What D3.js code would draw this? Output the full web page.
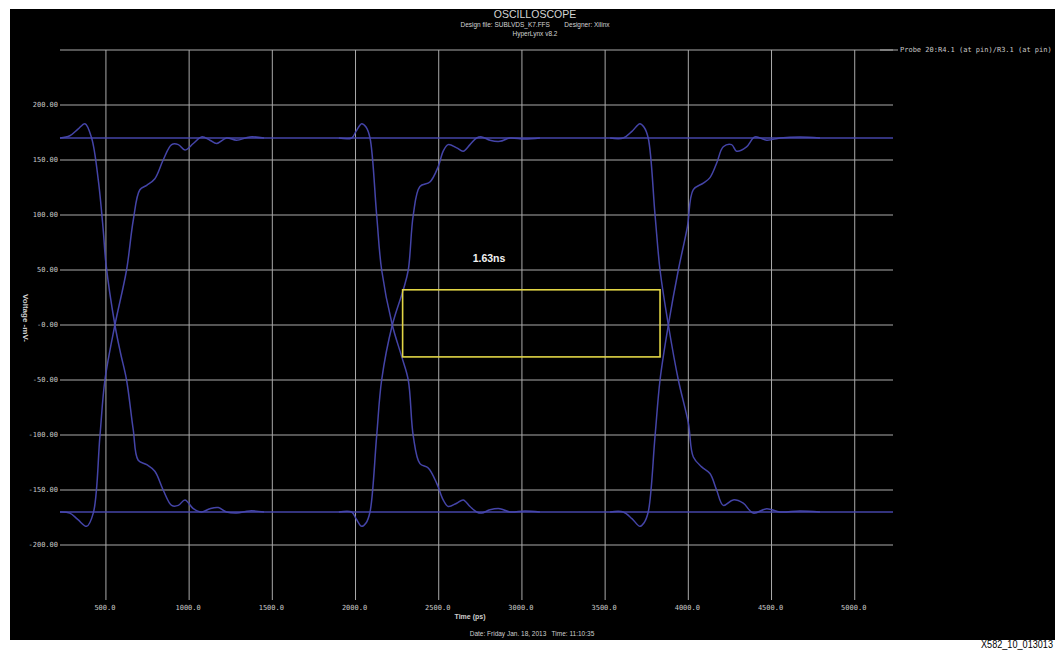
<!DOCTYPE html>
<html>
<head>
<meta charset="utf-8">
<script src="https://cdn.jsdelivr.net/npm/d3@7"></script>
<style>
  body { margin: 0; background: #fff; }
  svg { display: block; }
</style>
</head>
<body>
<div id="scope"></div>
<script>
"use strict";

// axis ticks
var xTicks = [500, 1000, 1500, 2000, 2500, 3000, 3500, 4000, 4500, 5000];
var xTickLabels = ["500.0", "1000.0", "1500.0", "2000.0", "2500.0", "3000.0", "3500.0", "4000.0", "4500.0", "5000.0"];
var yTicks = [200, 150, 100, 50, 0, -50, -100, -150, -200];
var yTickLabels = ["200.00", "150.00", "100.00", "50.00", "-0.00", "-50.00", "-100.00", "-150.00", "-200.00"];
var yGrid = [250, 200, 150, 100, 50, 0, -50, -100, -150, -200];

// steady levels (ps, mV)
var highLevel = [[224, 170], [5230, 170]];
var lowLevel = [[224, -170], [5230, -170]];

// edges (ps, mV)
var fallEdge1 = [[224, 170], [283, 172], [332, 178], [374, 183], [414, 170], [454, 132], [484, 86], [500, 56],
  [554, 0], [587, -25], [624, -50], [664, -95], [694, -123], [745, -127], [794, -133], [844, -150], [895, -164],
  [935, -164], [975, -159], [1025, -167], [1075, -170], [1125, -167], [1175, -166], [1225, -170], [1285, -171],
  [1365, -169], [1450, -170]];
var riseEdge1 = [[224, -170], [283, -171], [332, -177], [384, -183], [424, -171], [464, -101], [494, -50],
  [554, 0], [624, 50], [664, 95], [704, 123], [745, 127], [794, 133], [844, 150], [895, 164], [935, 164],
  [975, 159], [1025, 165], [1075, 171], [1125, 168], [1165, 165], [1225, 170], [1285, 168], [1365, 171], [1450, 170]];

var fallEdge2 = [[1900, 170], [1977, 170], [2003, 176], [2037, 183], [2063, 180], [2087, 170], [2127, 100],
  [2157, 50], [2221, 0], [2278, -29], [2317, -50], [2347, -101], [2387, -126], [2437, -130], [2488, -144],
  [2527, -159], [2557, -165], [2608, -162], [2647, -159], [2688, -165], [2728, -170], [2758, -171], [2808, -168],
  [2868, -167], [2928, -170], [3018, -169], [3108, -170]];
var riseEdge2 = [[1900, -170], [1977, -170], [2003, -176], [2037, -183], [2063, -180], [2087, -170], [2127, -101],
  [2157, -50], [2221, 0], [2287, 32], [2317, 50], [2347, 100], [2387, 126], [2447, 130], [2497, 144], [2527, 158],
  [2557, 164], [2608, 161], [2647, 158], [2688, 164], [2728, 170], [2758, 171], [2808, 168], [2868, 167],
  [2928, 170], [3018, 169], [3108, 170]];

var fallEdge3 = [[3530, 170], [3609, 170], [3661, 176], [3709, 183], [3733, 180], [3759, 170], [3800, 100],
  [3830, 50], [3880, 0], [3940, -50], [4000, -89], [4030, -120], [4080, -129], [4130, -135], [4170, -150],
  [4210, -164], [4270, -159], [4330, -162], [4390, -171], [4471, -167], [4551, -170], [4671, -169], [4791, -170]];
var riseEdge3 = [[3530, -170], [3609, -170], [3661, -176], [3709, -183], [3733, -180], [3759, -170], [3800, -101],
  [3830, -50], [3880, 0], [3940, 50], [3994, 89], [4030, 123], [4090, 129], [4130, 134], [4170, 147], [4210, 162],
  [4260, 164], [4290, 158], [4350, 162], [4400, 171], [4471, 168], [4551, 170], [4671, 171], [4791, 170]];

// eye mask (ps, mV)
var eyeTimes = [2283, 3830];
var eyeLevels = [-29, 32];

var traces = [highLevel, lowLevel, fallEdge1, riseEdge1, fallEdge2, riseEdge2, fallEdge3, riseEdge3];

var width = 1055, height = 652;

var svg = d3.select("#scope").append("svg")
  .attr("width", width)
  .attr("height", height);

svg.append("rect")
  .attr("x", 10).attr("y", 9)
  .attr("width", width - 10).attr("height", 631)
  .attr("fill", "#000");

var x = d3.scaleLinear().domain([224, 5230]).range([60, 893]);
var y = d3.scaleLinear().domain([-250, 250]).range([600, 50]);

var gridColor = "#aaaaaa";
var mono = "'DejaVu Sans Mono', monospace";
var sans = "'Liberation Sans', Arial, sans-serif";

//Grid
svg.append("g").selectAll("line").data(yGrid).enter().append("line")
  .attr("x1", x.range()[0]).attr("x2", x.range()[1])
  .attr("y1", function(d) { return y(d); })
  .attr("y2", function(d) { return y(d); })
  .attr("stroke", gridColor).attr("stroke-width", 1);

svg.append("g").selectAll("line").data(xTicks).enter().append("line")
  .attr("x1", function(d) { return x(d); })
  .attr("x2", function(d) { return x(d); })
  .attr("y1", y(250)).attr("y2", y(-250))
  .attr("stroke", gridColor).attr("stroke-width", 1);

//Tick labels
svg.append("g").selectAll("text").data(yTicks).enter().append("text")
  .attr("x", 58)
  .attr("y", function(d) { return y(d); })
  .attr("dy", "0.35em")
  .attr("text-anchor", "end")
  .attr("font-family", mono).attr("font-size", 7)
  .attr("fill", "#c8c8c8")
  .text(function(d, i) { return yTickLabels[i]; });

svg.append("g").selectAll("text").data(xTicks).enter().append("text")
  .attr("x", function(d) { return x(d) - 1; })
  .attr("y", 608)
  .attr("dy", "0.35em")
  .attr("text-anchor", "middle")
  .attr("font-family", mono).attr("font-size", 7)
  .attr("fill", "#c8c8c8")
  .text(function(d, i) { return xTickLabels[i]; });

//Traces
var line = d3.line()
  .x(function(d) { return x(d[0]); })
  .y(function(d) { return y(d[1]); })
  .curve(d3.curveCatmullRom.alpha(0.5));

svg.append("g").selectAll("path").data(traces).enter().append("path")
  .attr("d", line)
  .attr("fill", "none")
  .attr("stroke", "#4848b0")
  .attr("stroke-width", 1.5)
  .attr("stroke-opacity", 0.95);

//Eye mask
svg.append("rect")
  .attr("x", x(eyeTimes[0]))
  .attr("y", y(eyeLevels[1]))
  .attr("width", x(eyeTimes[1]) - x(eyeTimes[0]))
  .attr("height", y(eyeLevels[0]) - y(eyeLevels[1]))
  .attr("fill", "none")
  .attr("stroke", "#e2d646")
  .attr("stroke-width", 1.6);

svg.append("text")
  .attr("x", 489).attr("y", 262)
  .attr("text-anchor", "middle")
  .attr("font-family", sans).attr("font-weight", "bold").attr("font-size", 10.5)
  .attr("fill", "#f2f2f2")
  .text("1.63ns");

//Titles
var titles = [
  { text: "OSCILLOSCOPE", y: 18, size: 10.5 },
  { text: "Design file: SUBLVDS_K7.FFS        Designer: Xilinx", y: 27, size: 6.5 },
  { text: "HyperLynx v8.2", y: 36, size: 6.5 }
];
svg.append("g").selectAll("text").data(titles).enter().append("text")
  .attr("x", 535)
  .attr("y", function(d) { return d.y; })
  .attr("text-anchor", "middle")
  .attr("font-family", sans)
  .attr("font-size", function(d) { return d.size; })
  .attr("fill", "#d4d4d4")
  .style("white-space", "pre")
  .text(function(d) { return d.text; });

svg.append("text")
  .attr("x", 470).attr("y", 618.5)
  .attr("text-anchor", "middle")
  .attr("font-family", sans).attr("font-weight", "bold").attr("font-size", 7)
  .attr("fill", "#cfcfcf")
  .text("Time (ps)");

svg.append("text")
  .attr("x", 532).attr("y", 635.5)
  .attr("text-anchor", "middle")
  .attr("font-family", sans).attr("font-size", 6.5)
  .attr("fill", "#cfcfcf")
  .style("white-space", "pre")
  .text("Date: Friday Jan. 18, 2013   Time: 11:10:35");

svg.append("text")
  .attr("transform", "translate(23,318) rotate(90)")
  .attr("text-anchor", "middle")
  .attr("font-family", sans).attr("font-weight", "bold").attr("font-size", 8)
  .attr("fill", "#cfcfcf")
  .text("Voltage -mV-");

//Legend
svg.append("line")
  .attr("x1", 880).attr("x2", 898)
  .attr("y1", 50).attr("y2", 50)
  .attr("stroke", gridColor).attr("stroke-width", 1);

svg.append("text")
  .attr("x", 900).attr("y", 50)
  .attr("dy", "0.35em")
  .attr("font-family", mono).attr("font-size", 7)
  .attr("fill", "#c8c8c8")
  .text("Probe 20:R4.1 (at pin)/R3.1 (at pin)");

//Figure number
svg.append("text")
  .attr("x", 981).attr("y", 648)
  .attr("font-family", sans).attr("font-size", 11)
  .attr("textLength", 72)
  .attr("lengthAdjust", "spacingAndGlyphs")
  .attr("fill", "#000")
  .text("X582_10_013013");
</script>
</body>
</html>
